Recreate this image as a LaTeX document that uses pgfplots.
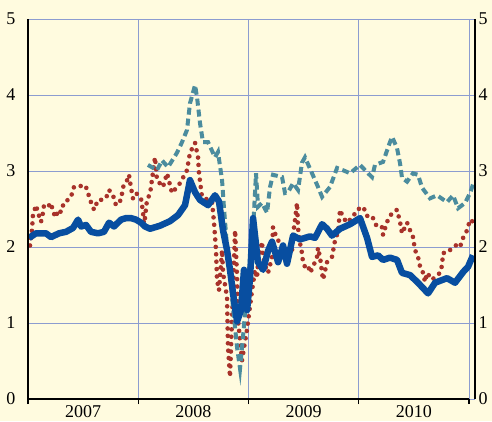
\documentclass[border=0pt]{standalone}
\usepackage{fontspec}
\setmainfont{Liberation Serif}
\usepackage{pgfplots}
\pgfplotsset{compat=1.18}
\definecolor{cream}{RGB}{255,251,223}
\definecolor{gridblue}{RGB}{140,156,208}
\definecolor{darkblue}{RGB}{8,78,160}
\definecolor{teal}{RGB}{75,140,158}
\definecolor{brickred}{RGB}{168,50,42}

% x = years since start of 2007
\pgfplotstableread{
x y
0.009 2.12
0.073 2.18
0.163 2.18
0.209 2.13
0.281 2.18
0.345 2.20
0.408 2.25
0.454 2.36
0.481 2.27
0.526 2.29
0.571 2.20
0.635 2.18
0.689 2.20
0.735 2.32
0.780 2.27
0.844 2.36
0.889 2.38
0.934 2.38
0.980 2.36
1.025 2.32
1.061 2.27
1.107 2.24
1.197 2.28
1.288 2.34
1.361 2.42
1.424 2.55
1.469 2.88
1.515 2.72
1.560 2.62
1.633 2.55
1.696 2.68
1.732 2.60
1.769 2.22
1.805 1.96
1.832 1.70
1.868 1.30
1.896 1.02
1.932 1.17
1.959 1.70
1.987 1.17
2.014 1.60
2.041 2.38
2.086 1.80
2.132 1.70
2.177 1.95
2.213 2.07
2.268 1.80
2.313 2.02
2.349 1.78
2.404 2.15
2.467 2.10
2.558 2.14
2.603 2.12
2.667 2.30
2.712 2.24
2.757 2.15
2.830 2.24
2.921 2.30
3.011 2.38
3.075 2.12
3.120 1.87
3.175 1.89
3.220 1.83
3.283 1.86
3.347 1.83
3.392 1.66
3.465 1.63
3.537 1.53
3.628 1.39
3.692 1.53
3.800 1.59
3.873 1.53
3.946 1.67
3.991 1.74
4.036 1.89
}\bluedata

\pgfplotstableread{
x y
1.088 3.08
1.170 3.01
1.215 3.14
1.270 3.05
1.351 3.24
1.397 3.38
1.442 3.54
1.469 3.89
1.515 4.13
1.533 3.97
1.560 3.63
1.587 3.38
1.633 3.38
1.696 3.18
1.723 3.25
1.760 2.88
1.778 2.50
1.805 2.00
1.832 1.66
1.859 1.21
1.896 0.68
1.923 0.40
1.950 0.82
1.995 1.57
2.041 2.22
2.068 2.97
2.086 2.53
2.122 2.58
2.168 2.45
2.195 2.79
2.222 2.95
2.304 2.92
2.331 2.71
2.358 2.72
2.404 2.84
2.449 2.75
2.485 3.11
2.512 3.18
2.576 2.97
2.630 2.79
2.667 2.66
2.739 2.79
2.803 3.04
2.857 3.01
2.921 2.97
3.011 3.08
3.084 2.97
3.120 2.92
3.147 3.08
3.220 3.12
3.283 3.38
3.302 3.45
3.347 3.30
3.374 3.10
3.392 2.91
3.438 2.86
3.492 2.97
3.537 2.95
3.574 2.78
3.646 2.64
3.710 2.68
3.800 2.59
3.855 2.68
3.900 2.51
3.964 2.58
4.009 2.71
4.045 2.86
}\tealdata

\pgfplotstableread{
x y
0.018 2.02
0.036 2.22
0.045 2.42
0.073 2.55
0.091 2.45
0.118 2.33
0.136 2.45
0.145 2.55
0.181 2.53
0.209 2.58
0.227 2.46
0.254 2.39
0.272 2.49
0.299 2.46
0.327 2.59
0.363 2.62
0.390 2.66
0.417 2.79
0.463 2.79
0.499 2.82
0.526 2.79
0.544 2.71
0.571 2.59
0.599 2.49
0.635 2.62
0.662 2.62
0.707 2.64
0.735 2.75
0.771 2.68
0.798 2.55
0.844 2.62
0.862 2.79
0.889 2.84
0.916 2.95
0.934 2.78
0.952 2.64
0.980 2.71
1.025 2.64
1.043 2.46
1.052 2.26
1.079 2.62
1.107 2.70
1.152 3.18
1.170 2.88
1.224 2.79
1.261 2.97
1.306 2.71
1.379 2.84
1.442 3.01
1.469 3.24
1.515 3.37
1.542 3.18
1.551 2.97
1.578 2.66
1.633 2.62
1.669 2.60
1.687 2.32
1.705 1.96
1.714 1.57
1.732 1.43
1.760 1.96
1.769 1.66
1.805 1.34
1.814 0.68
1.832 0.29
1.850 1.04
1.878 2.22
1.896 1.61
1.905 1.04
1.941 0.51
1.986 0.91
2.032 1.43
2.059 1.70
2.077 1.59
2.086 1.79
2.122 2.07
2.132 1.87
2.150 1.76
2.177 1.66
2.213 1.86
2.222 2.26
2.240 2.18
2.268 2.09
2.304 2.00
2.313 1.92
2.349 1.80
2.395 1.96
2.404 2.16
2.422 2.36
2.440 2.58
2.449 2.25
2.467 2.05
2.485 1.92
2.494 1.80
2.512 1.74
2.540 1.76
2.558 1.66
2.585 1.74
2.621 1.87
2.630 1.99
2.649 1.86
2.667 1.66
2.676 1.57
2.712 1.80
2.757 1.87
2.785 2.09
2.812 2.20
2.830 2.49
2.857 2.39
2.894 2.32
2.921 2.36
2.948 2.42
2.984 2.45
3.011 2.53
3.057 2.49
3.084 2.38
3.129 2.38
3.166 2.26
3.211 2.26
3.220 2.16
3.256 2.33
3.302 2.45
3.347 2.49
3.374 2.33
3.392 2.18
3.438 2.32
3.465 2.22
3.492 2.13
3.510 1.96
3.537 1.87
3.556 1.74
3.583 1.66
3.601 1.54
3.619 1.66
3.664 1.57
3.737 1.66
3.755 1.76
3.764 1.92
3.810 1.93
3.846 1.99
3.891 2.03
3.918 2.00
3.946 2.12
3.982 2.22
4.009 2.36
4.036 2.33
}\reddata

\begin{document}
\begin{tikzpicture}
\useasboundingbox (-28pt,-22pt) rectangle (464pt,399pt);
\fill[cream] (-28pt,-22pt) rectangle (464pt,399pt);
\pgfplotsset{
  common/.style={
    at={(0pt,0pt)}, anchor=south west,
    scale only axis, width=447pt, height=380pt,
    xmin=0, xmax=4.054, ymin=0, ymax=5,
    ytick={0,1,2,3,4,5},
    tick label style={font=\fontsize{18}{20}\selectfont},
    /pgf/number format/assume math mode=true,
  }
}
% grid and data
\begin{axis}[
  common,
  axis line style={draw=none},
  tick style={draw=none},
  xtick={1,2,3,4}, xticklabels={}, yticklabels={},
  grid=major,
  grid style={gridblue, line width=1pt},
]
\addplot[brickred, line width=4.6pt, line cap=round, dash pattern=on 0pt off 7.4pt] table {\reddata};
\addplot[teal, line width=4pt, dash pattern=on 7pt off 4pt] table {\tealdata};
\addplot[darkblue, line width=6.5pt, line join=round] table {\bluedata};
\end{axis}
% left and bottom axis lines, ticks and labels
\begin{axis}[
  common,
  axis x line*=bottom, axis y line*=left,
  axis line style={line width=1.3pt, black},
  x axis line style={shorten >=6pt},
  xtick={0,1,2,3,4}, xticklabels={},
  xtick pos=bottom, tick align=outside,
  major tick length=5pt,
  x tick style={black, line width=1.2pt},
  y tick style={draw=none},
  yticklabel style={xshift=-4pt},
  extra x ticks={0.5,1.5,2.5,3.5},
  extra x tick labels={2007,2008,2009,2010},
  extra x tick style={major tick length=0pt, tick style={draw=none},
    tick label style={inner sep=0pt, yshift=-6.5pt}},
]
\end{axis}
% right axis
\begin{axis}[
  common,
  axis x line=none, axis y line*=right,
  axis line style={line width=1.3pt, black},
  y tick style={draw=none},
]
\end{axis}
\end{tikzpicture}
\end{document}
